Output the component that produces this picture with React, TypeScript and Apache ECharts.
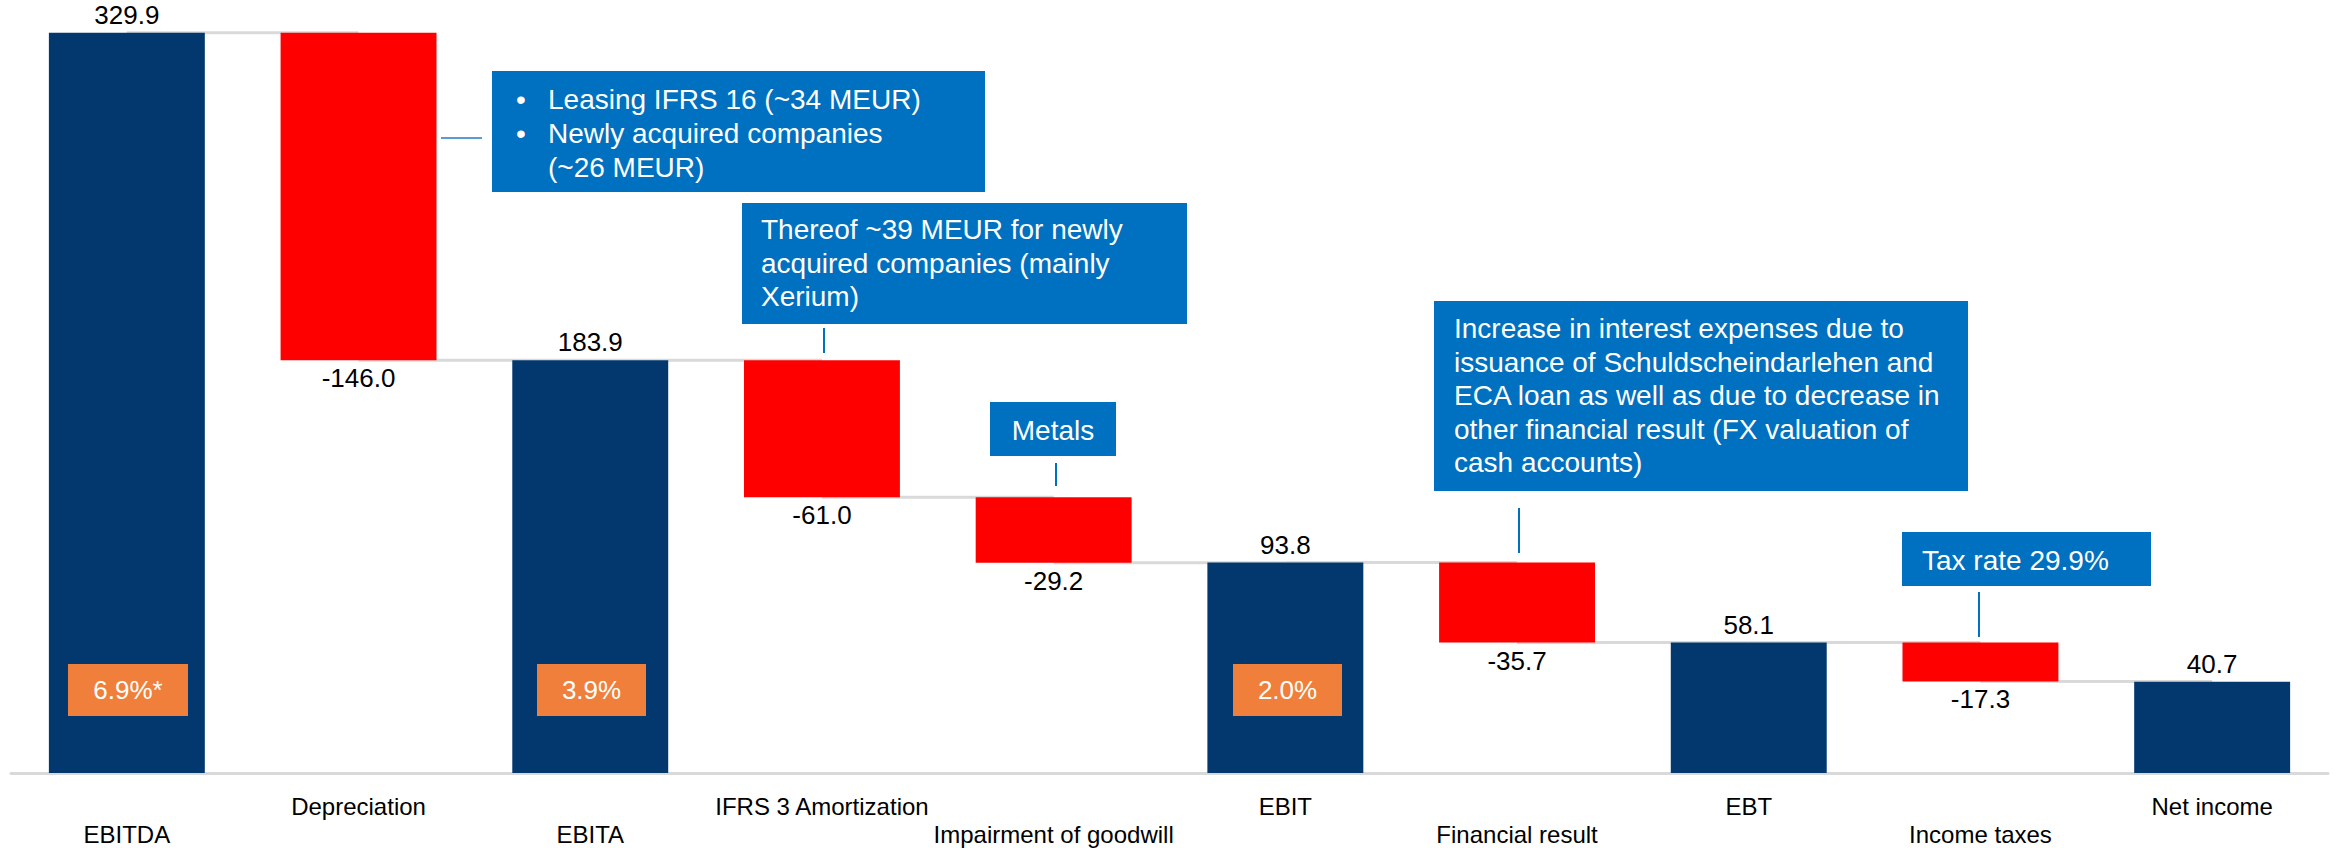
import React, { useEffect, useRef } from 'react';
import * as echarts from 'echarts';

const categories = [
  'EBITDA',
  'Depreciation',
  'EBITA',
  'IFRS 3 Amortization',
  'Impairment of goodwill',
  'EBIT',
  'Financial result',
  'EBT',
  'Income taxes',
  'Net income',
];
const values = [329.9, -146.0, 183.9, -61.0, -29.2, 93.8, -35.7, 58.1, -17.3, 40.7];
const isTotal = [true, false, true, false, false, true, false, true, false, true];
const marginLabels = ['6.9%*', '3.9%', '2.0%'];

const FONT = '"Liberation Sans", Arial, sans-serif';
const NAVY = '#02386E';
const RED = '#FF0000';
const BLUE = '#0070C0';
const ORANGE = '#EF7F3A';
const GREY = '#D9D9D9';

export default function App() {
  const ref = useRef<HTMLDivElement>(null);
  useEffect(() => {
    const chart = echarts.init(ref.current!, null, { renderer: 'svg' });
    const base: number[] = [];
    const height: number[] = [];
    const levels: number[] = [];
    let L = 0;
    values.forEach((v, i) => {
      if (isTotal[i]) {
        base.push(0);
        height.push(v);
        L = v;
      } else {
        base.push(L + v);
        height.push(-v);
        L = L + v;
      }
      levels.push(L);
    });

    const barData = values.map((v, i) => ({
      value: height[i],
      itemStyle: { color: isTotal[i] ? NAVY : RED },
      label: {
        show: true,
        position: isTotal[i] ? 'top' : 'bottom',
        distance: 5,
        formatter: () => v.toFixed(1),
        fontSize: 26,
        fontFamily: FONT,
        color: '#000',
      },
    }));

    const connectorData = levels.slice(0, levels.length - 1).map((l, i) => [i, l]);

    const annBox = (x: number, y: number, w: number, h: number) => ({
      type: 'rect',
      shape: { x, y, width: w, height: h },
      style: { fill: BLUE },
      z: 10,
    });
    const annText = (x: number, y: number, text: string, lineHeight: number, align = 'left', vAlign = 'top') => ({
      type: 'text',
      x,
      y,
      style: {
        text,
        fill: '#fff',
        fontSize: 28,
        fontFamily: FONT,
        lineHeight,
        textAlign: align,
        textVerticalAlign: vAlign,
      },
      z: 11,
    });
    const annLine = (x1: number, y1: number, x2: number, y2: number, color = BLUE) => ({
      type: 'line',
      shape: { x1, y1, x2, y2 },
      style: { stroke: color, lineWidth: 2 },
      z: 10,
    });
    const orangeBox = (x: number, w: number, label: string) => [
      { type: 'rect', shape: { x, y: 664, width: w, height: 52 }, style: { fill: ORANGE }, z: 10 },
      {
        type: 'text',
        x: x + w / 2,
        y: 690,
        style: {
          text: label,
          fontSize: 26,
          fontFamily: FONT,
          fill: '#fff',
          textAlign: 'center',
          textVerticalAlign: 'middle',
        },
        z: 11,
      },
    ];

    chart.setOption({
      animation: false,
      grid: { left: 11, right: 8, top: 10, bottom: 75, containLabel: false },
      xAxis: {
        type: 'category',
        data: categories,
        axisLine: { lineStyle: { color: GREY, width: 3 } },
        axisTick: { show: false },
        axisLabel: {
          interval: 0,
          margin: 19,
          color: '#000',
          fontSize: 24,
          fontFamily: FONT,
          lineHeight: 28,
          verticalAlign: 'top',
          formatter: (val: string, idx: number) => (idx % 2 === 1 ? val : '\n' + val),
        },
      },
      yAxis: { type: 'value', min: 0, max: 340, show: false, splitLine: { show: false } },
      series: [
        {
          type: 'custom',
          z: 1,
          renderItem: (params: any, api: any) => {
            const i = api.value(0);
            const lv = api.value(1);
            const p1 = api.coord([i, lv]);
            const p2 = api.coord([i + 1, lv]);
            return {
              type: 'line',
              shape: { x1: p1[0], y1: p1[1], x2: p2[0], y2: p2[1] },
              style: { stroke: GREY, lineWidth: 3 },
            };
          },
          encode: { x: 0, y: 1 },
          data: connectorData,
          silent: true,
        },
        {
          type: 'bar',
          stack: 'w',
          z: 2,
          barCategoryGap: '32.7%',
          itemStyle: { color: 'transparent' },
          data: base,
          silent: true,
        },
        {
          type: 'bar',
          stack: 'w',
          z: 2,
          barCategoryGap: '32.7%',
          data: barData,
        },
      ],
      graphic: [
        annBox(492, 71, 493, 121),
        annText(516, 82, '•\n•', 34),
        annText(548, 82, 'Leasing IFRS 16 (~34 MEUR)\nNewly acquired companies\n(~26 MEUR)', 34),
        annLine(441, 138, 482, 138, '#5B9BD5'),

        annBox(742, 203, 445, 121),
        annText(761, 213, 'Thereof ~39 MEUR for newly\nacquired companies (mainly\nXerium)', 33.5),
        annLine(824, 328, 824, 353),

        annBox(990, 402, 126, 54),
        annText(1053, 430, 'Metals', 34, 'center', 'middle'),
        annLine(1056, 463, 1056, 486),

        annBox(1434, 301, 534, 190),
        annText(
          1454,
          312,
          'Increase in interest expenses due to\nissuance of Schuldscheindarlehen and\nECA loan as well as due to decrease in\nother financial result (FX valuation of\ncash accounts)',
          33.5
        ),
        annLine(1519, 508, 1519, 553),

        annBox(1902, 532, 249, 54),
        annText(1922, 560, 'Tax rate 29.9%', 34, 'left', 'middle'),
        annLine(1979, 592, 1979, 637),

        ...orangeBox(68, 120, marginLabels[0]),
        ...orangeBox(537, 109, marginLabels[1]),
        ...orangeBox(1233, 109, marginLabels[2]),
      ],
    });
    return () => chart.dispose();
  }, []);
  return <div ref={ref} style={{ position: 'absolute', left: 0, top: 0, width: 2336, height: 848 }} />;
}
